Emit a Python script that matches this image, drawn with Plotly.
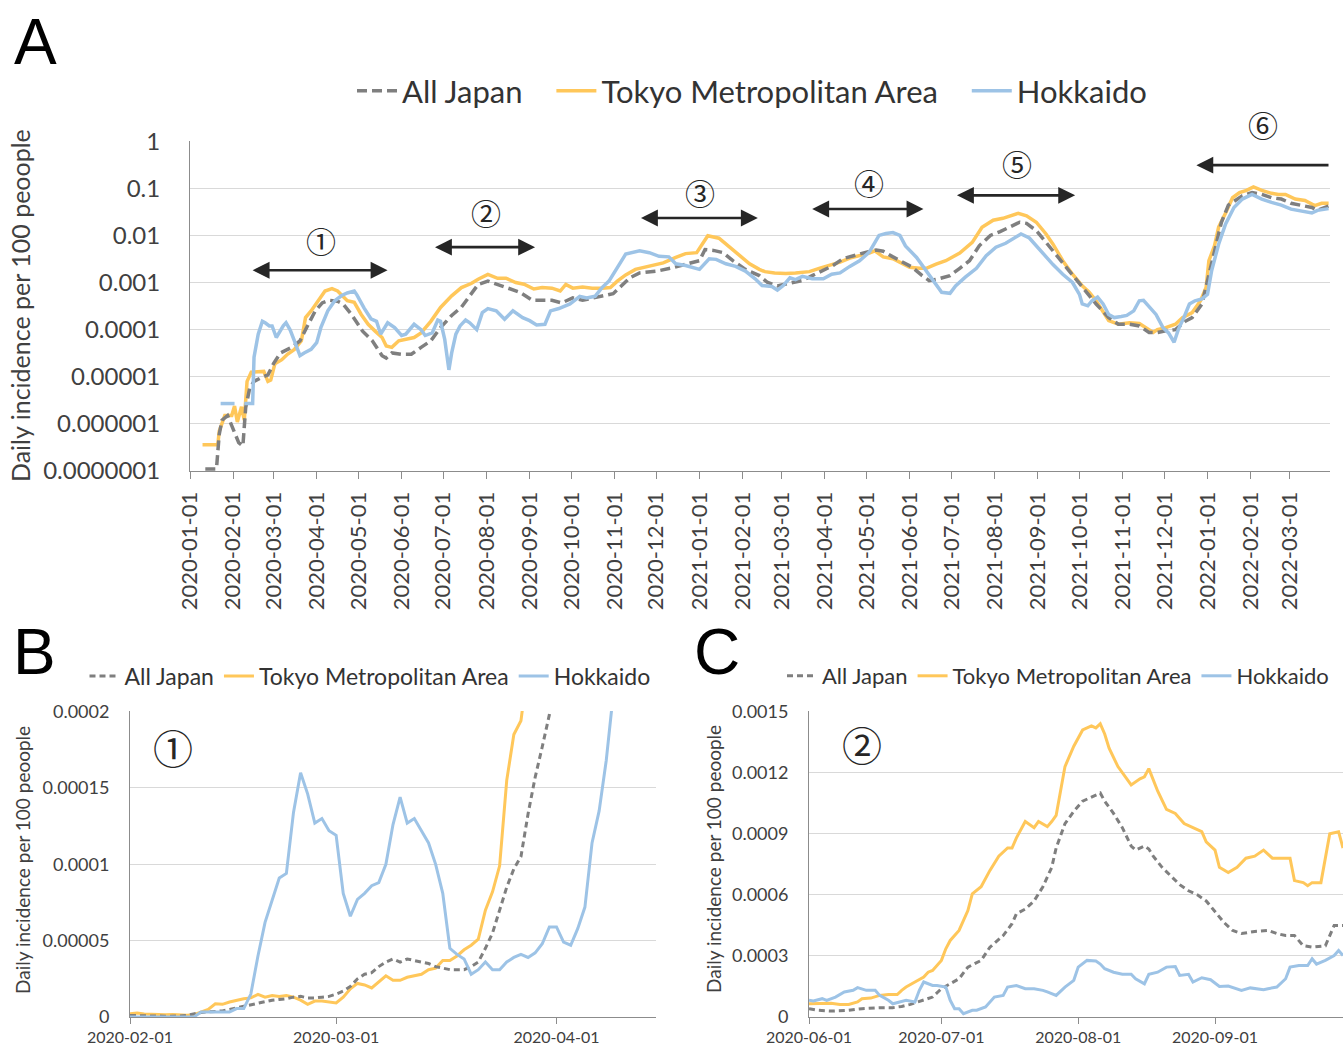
import pandas as pd
import plotly.graph_objects as go

# colours
COLOR_JAPAN = "#7f7f7f"
COLOR_TOKYO = "#ffc75a"
COLOR_HOKKAIDO = "#9dc3e6"
GRID_COLOR = "#d9d9d9"
AXIS_COLOR = "#8c8c8c"
TEXT_COLOR = "#404040"
FONT = "Lato, 'Open Sans', sans-serif"
CJK = "'Noto Sans CJK JP', sans-serif"

W, H = 1343, 1050

# ---------------- Panel A: whole period (log scale) ----------------
A_JAPAN_DATES = [
    "2020-01-12", "2020-01-20", "2020-01-22", "2020-01-24", "2020-01-28", "2020-02-02", "2020-02-05",
    "2020-02-08", "2020-02-10", "2020-02-13", "2020-02-16", "2020-02-21", "2020-02-26", "2020-03-01",
    "2020-03-06", "2020-03-14", "2020-03-20", "2020-03-26", "2020-03-31", "2020-04-05", "2020-04-10",
    "2020-04-16", "2020-04-20", "2020-04-26", "2020-05-04", "2020-05-11", "2020-05-18", "2020-05-21",
    "2020-05-25", "2020-06-01", "2020-06-08", "2020-06-15", "2020-06-22", "2020-06-29", "2020-07-07",
    "2020-07-14", "2020-07-20", "2020-07-26", "2020-08-02", "2020-08-09", "2020-08-17", "2020-08-25",
    "2020-09-03", "2020-09-10", "2020-09-17", "2020-09-24", "2020-10-02", "2020-10-09", "2020-10-16",
    "2020-10-23", "2020-10-31", "2020-11-06", "2020-11-12", "2020-11-19", "2020-12-01", "2020-12-11",
    "2020-12-22", "2021-01-01", "2021-01-05", "2021-01-11", "2021-01-18", "2021-01-25", "2021-02-03",
    "2021-02-13", "2021-02-19", "2021-02-26", "2021-03-09", "2021-03-16", "2021-03-23", "2021-03-31",
    "2021-04-07", "2021-04-14", "2021-04-21", "2021-05-01", "2021-05-08", "2021-05-13", "2021-05-20",
    "2021-05-27", "2021-06-03", "2021-06-10", "2021-06-15", "2021-06-22", "2021-06-30", "2021-07-07",
    "2021-07-14", "2021-07-21", "2021-07-29", "2021-08-05", "2021-08-12", "2021-08-19", "2021-08-24",
    "2021-08-31", "2021-09-07", "2021-09-14", "2021-09-19", "2021-09-26", "2021-10-03", "2021-10-13",
    "2021-10-22", "2021-10-29", "2021-11-06", "2021-11-13", "2021-11-20", "2021-11-26", "2021-12-02",
    "2021-12-09", "2021-12-16", "2021-12-21", "2021-12-28", "2022-01-02", "2022-01-07", "2022-01-11",
    "2022-01-16", "2022-01-21", "2022-01-26", "2022-02-02", "2022-02-09", "2022-02-16", "2022-02-23",
    "2022-03-02", "2022-03-09", "2022-03-17", "2022-03-21", "2022-03-29",
]
A_JAPAN = [
    1.1e-7, 1.1e-7, 6e-7, 1.2e-6, 1.5e-6, 7e-7, 4e-7,
    3.4e-7, 2.2e-6, 5.9e-6, 8e-6, 9.5e-6, 1.1e-5, 1.9e-5,
    3.2e-5, 4.2e-5, 5.8e-5, 1.3e-4, 2.5e-4, 3.7e-4, 4.2e-4,
    4e-4, 3.5e-4, 2.1e-4, 9.3e-5, 5.8e-5, 2.8e-5, 2.5e-5,
    3.2e-5, 3e-5, 3e-5, 4.2e-5, 5.8e-5, 1.1e-4, 2e-4,
    3e-4, 5.1e-4, 9.1e-4, 1.07e-3, 9.1e-4, 7.8e-4, 6.2e-4,
    4.2e-4, 4.2e-4, 4.2e-4, 3.7e-4, 4.7e-4, 4.2e-4, 4.7e-4,
    5.1e-4, 5.8e-4, 8.5e-4, 1.26e-3, 1.6e-3, 1.74e-3, 2.0e-3,
    2.4e-3, 2.9e-3, 5e-3, 4.8e-3, 4.3e-3, 2.9e-3, 1.9e-3,
    1.4e-3, 1.0e-3, 8.5e-4, 1.0e-3, 1.1e-3, 1.4e-3, 1.8e-3,
    2.3e-3, 3.2e-3, 3.7e-3, 4.4e-3, 4.9e-3, 4.6e-3, 3.5e-3,
    2.7e-3, 2.1e-3, 1.4e-3, 1.1e-3, 1.2e-3, 1.4e-3, 2.0e-3,
    2.9e-3, 6e-3, 1.0e-2, 1.2e-2, 1.5e-2, 1.9e-2, 1.8e-2,
    1.26e-2, 7.1e-3, 4.0e-3, 2.6e-3, 1.5e-3, 8e-4, 3.5e-4,
    1.8e-4, 1.3e-4, 1.3e-4, 1.2e-4, 8.7e-5, 8.7e-5, 9.5e-5,
    1.0e-4, 1.5e-4, 1.8e-4, 3.5e-4, 1.5e-3, 6.3e-3, 1.9e-2,
    4.4e-2, 5.4e-2, 6.9e-2, 8.1e-2, 7.4e-2, 6.3e-2, 5.9e-2,
    4.8e-2, 4.4e-2, 3.9e-2, 3.4e-2, 4.2e-2,
]

A_TOKYO_DATES = [
    "2020-01-10", "2020-01-21", "2020-01-22", "2020-01-26", "2020-01-31", "2020-02-02", "2020-02-04",
    "2020-02-07", "2020-02-09", "2020-02-11", "2020-02-14", "2020-02-23", "2020-02-26", "2020-02-28",
    "2020-03-02", "2020-03-07", "2020-03-11", "2020-03-16", "2020-03-21", "2020-03-24", "2020-03-28",
    "2020-04-02", "2020-04-07", "2020-04-12", "2020-04-16", "2020-04-23", "2020-04-28", "2020-05-03",
    "2020-05-08", "2020-05-13", "2020-05-18", "2020-05-21", "2020-05-25", "2020-05-30", "2020-06-03",
    "2020-06-10", "2020-06-15", "2020-06-22", "2020-06-29", "2020-07-07", "2020-07-14", "2020-07-21",
    "2020-07-26", "2020-08-02", "2020-08-09", "2020-08-15", "2020-08-22", "2020-08-28", "2020-09-04",
    "2020-09-10", "2020-09-17", "2020-09-23", "2020-09-27", "2020-10-02", "2020-10-09", "2020-10-16",
    "2020-10-23", "2020-10-29", "2020-11-03", "2020-11-09", "2020-11-16", "2020-11-26", "2020-12-06",
    "2020-12-15", "2020-12-22", "2020-12-30", "2021-01-03", "2021-01-07", "2021-01-15", "2021-01-23",
    "2021-01-30", "2021-02-06", "2021-02-13", "2021-02-17", "2021-02-24", "2021-03-04", "2021-03-11",
    "2021-03-21", "2021-03-28", "2021-04-04", "2021-04-12", "2021-04-19", "2021-04-26", "2021-05-03",
    "2021-05-07", "2021-05-13", "2021-05-20", "2021-05-27", "2021-06-01", "2021-06-08", "2021-06-13",
    "2021-06-20", "2021-06-27", "2021-07-07", "2021-07-16", "2021-07-23", "2021-07-31", "2021-08-07",
    "2021-08-12", "2021-08-18", "2021-08-24", "2021-08-31", "2021-09-07", "2021-09-12", "2021-09-19",
    "2021-09-26", "2021-10-03", "2021-10-08", "2021-10-13", "2021-10-18", "2021-10-22", "2021-10-29",
    "2021-11-06", "2021-11-13", "2021-11-18", "2021-11-23", "2021-11-26", "2021-12-02", "2021-12-09",
    "2021-12-14", "2021-12-21", "2021-12-27", "2021-12-31", "2022-01-02", "2022-01-06", "2022-01-09",
    "2022-01-14", "2022-01-19", "2022-01-24", "2022-01-29", "2022-02-03", "2022-02-09", "2022-02-16",
    "2022-02-21", "2022-02-26", "2022-03-05", "2022-03-12", "2022-03-19", "2022-03-24", "2022-03-29",
]
A_TOKYO = [
    3.6e-7, 3.6e-7, 7e-7, 1.5e-6, 1.5e-6, 2.4e-6, 1.1e-6,
    2.3e-6, 1.2e-6, 8e-6, 1.25e-5, 1.3e-5, 8e-6, 8.5e-6,
    1.9e-5, 2.3e-5, 3e-5, 3.8e-5, 5.8e-5, 1.8e-4, 2.5e-4,
    4.1e-4, 6.6e-4, 7.4e-4, 6.6e-4, 4.1e-4, 3.8e-4, 2.1e-4,
    1.3e-4, 9.3e-5, 6.8e-5, 4.5e-5, 4.2e-5, 5.8e-5, 6.2e-5,
    6.8e-5, 8.5e-5, 1.5e-4, 2.95e-4, 5.2e-4, 7.8e-4, 9.5e-4,
    1.17e-3, 1.48e-3, 1.23e-3, 1.23e-3, 1.0e-3, 9.2e-4, 7.3e-4,
    7.8e-4, 7.6e-4, 6.6e-4, 9.1e-4, 7.6e-4, 8e-4, 7.6e-4,
    7.6e-4, 7.8e-4, 1.07e-3, 1.45e-3, 1.9e-3, 2.2e-3, 2.6e-3,
    3.4e-3, 4.1e-3, 4.3e-3, 6.5e-3, 9.8e-3, 8.7e-3, 5.5e-3,
    3.6e-3, 2.5e-3, 1.9e-3, 1.7e-3, 1.6e-3, 1.55e-3, 1.6e-3,
    1.7e-3, 2.0e-3, 2.3e-3, 2.7e-3, 3.3e-3, 3.7e-3, 4.2e-3,
    4.7e-3, 3.5e-3, 3.2e-3, 2.5e-3, 2.1e-3, 2.0e-3, 2.0e-3,
    2.45e-3, 2.9e-3, 4.2e-3, 7.1e-3, 1.48e-2, 2.1e-2, 2.3e-2,
    2.6e-2, 2.95e-2, 2.6e-2, 1.9e-2, 1.07e-2, 6.5e-3, 2.9e-3,
    1.5e-3, 8.5e-4, 6.2e-4, 4.1e-4, 2.3e-4, 1.55e-4, 1.3e-4,
    1.4e-4, 1.35e-4, 1.1e-4, 8.7e-5, 1.0e-4, 1.1e-4, 1.3e-4,
    1.8e-4, 2.3e-4, 4.1e-4, 7.9e-4, 2.9e-3, 6e-3, 1.5e-2,
    3e-2, 6.3e-2, 8.1e-2, 9e-2, 1.07e-1, 9e-2, 7.8e-2,
    7.4e-2, 7.4e-2, 5.9e-2, 5.5e-2, 4.3e-2, 4.8e-2, 4.8e-2,
]

A_HOKKAIDO_DATES = [
    "2020-01-23", "2020-02-02", "2020-02-05", "2020-02-09", "2020-02-15", "2020-02-16", "2020-02-19",
    "2020-02-22", "2020-02-24", "2020-02-27", "2020-02-29", "2020-03-03", "2020-03-05", "2020-03-08",
    "2020-03-10", "2020-03-13", "2020-03-16", "2020-03-20", "2020-03-23", "2020-03-28", "2020-04-01",
    "2020-04-04", "2020-04-09", "2020-04-14", "2020-04-19", "2020-04-23", "2020-04-28", "2020-04-30",
    "2020-05-05", "2020-05-10", "2020-05-14", "2020-05-17", "2020-05-22", "2020-05-27", "2020-06-01",
    "2020-06-04", "2020-06-10", "2020-06-15", "2020-06-18", "2020-06-23", "2020-06-27", "2020-06-29",
    "2020-07-02", "2020-07-05", "2020-07-07", "2020-07-10", "2020-07-13", "2020-07-17", "2020-07-20",
    "2020-07-25", "2020-07-29", "2020-08-02", "2020-08-08", "2020-08-14", "2020-08-20", "2020-08-27",
    "2020-09-01", "2020-09-06", "2020-09-12", "2020-09-16", "2020-09-22", "2020-09-30", "2020-10-07",
    "2020-10-12", "2020-10-18", "2020-10-23", "2020-10-28", "2020-11-03", "2020-11-09", "2020-11-19",
    "2020-11-26", "2020-12-03", "2020-12-10", "2020-12-15", "2020-12-22", "2021-01-01", "2021-01-08",
    "2021-01-13", "2021-01-20", "2021-01-27", "2021-02-03", "2021-02-10", "2021-02-15", "2021-02-22",
    "2021-02-26", "2021-03-02", "2021-03-07", "2021-03-11", "2021-03-16", "2021-03-23", "2021-03-31",
    "2021-04-06", "2021-04-12", "2021-04-19", "2021-04-26", "2021-05-03", "2021-05-10", "2021-05-15",
    "2021-05-20", "2021-05-25", "2021-05-29", "2021-06-06", "2021-06-13", "2021-06-18", "2021-06-24",
    "2021-06-30", "2021-07-04", "2021-07-11", "2021-07-19", "2021-07-26", "2021-08-02", "2021-08-09",
    "2021-08-14", "2021-08-20", "2021-08-26", "2021-08-31", "2021-09-07", "2021-09-12", "2021-09-19",
    "2021-09-26", "2021-10-01", "2021-10-03", "2021-10-07", "2021-10-10", "2021-10-14", "2021-10-18",
    "2021-10-22", "2021-10-26", "2021-10-31", "2021-11-04", "2021-11-09", "2021-11-13", "2021-11-16",
    "2021-11-20", "2021-11-25", "2021-11-30", "2021-12-04", "2021-12-08", "2021-12-11", "2021-12-15",
    "2021-12-19", "2021-12-23", "2021-12-28", "2022-01-01", "2022-01-04", "2022-01-09", "2022-01-14",
    "2022-01-20", "2022-01-26", "2022-02-02", "2022-02-09", "2022-02-16", "2022-02-23", "2022-03-02",
    "2022-03-09", "2022-03-17", "2022-03-21", "2022-03-29",
]
A_HOKKAIDO = [
    2.7e-6, 2.7e-6, None, 2.7e-6, 2.7e-6, 2.6e-5, 8e-5,
    1.5e-4, 1.4e-4, 1.2e-4, 1.2e-4, 6.8e-5, 8.8e-5, 1.2e-4,
    1.4e-4, 9.8e-5, 5.8e-5, 2.8e-5, 3.2e-5, 3.8e-5, 5.3e-5,
    1.1e-4, 2.5e-4, 4.1e-4, 5.3e-4, 6e-4, 6.6e-4, 5.4e-4,
    2.9e-4, 1.7e-4, 1.5e-4, 8e-5, 1.4e-4, 1.1e-4, 7.5e-5,
    8e-5, 1.3e-4, 1.0e-4, 7.5e-5, 8.5e-5, 1.6e-4, 1.5e-4,
    6.2e-5, 1.4e-5, 3.2e-5, 8e-5, 1.2e-4, 1.6e-4, 1.4e-4,
    1.0e-4, 2.3e-4, 2.8e-4, 2.5e-4, 1.66e-4, 2.5e-4, 1.8e-4,
    1.55e-4, 1.26e-4, 1.3e-4, 2.5e-4, 2.8e-4, 3.5e-4, 5.1e-4,
    4.7e-4, 5.1e-4, 7.8e-4, 1.07e-3, 2.0e-3, 4.0e-3, 4.7e-3,
    4.3e-3, 3.6e-3, 3.5e-3, 2.5e-3, 2.3e-3, 1.9e-3, 3.2e-3,
    3.1e-3, 2.5e-3, 2.2e-3, 1.75e-3, 1.2e-3, 8.6e-4, 8.2e-4,
    6.9e-4, 8.5e-4, 1.26e-3, 1.15e-3, 1.35e-3, 1.2e-3, 1.2e-3,
    1.5e-3, 1.6e-3, 2.2e-3, 2.9e-3, 4.4e-3, 1.0e-2, 1.1e-2,
    1.15e-2, 1.0e-2, 6e-3, 3.4e-3, 1.8e-3, 1.1e-3, 6.2e-4,
    5.9e-4, 8.5e-4, 1.3e-3, 2.0e-3, 3.7e-3, 5.6e-3, 6.8e-3,
    8.3e-3, 1.07e-2, 8.8e-3, 6e-3, 3.4e-3, 2.4e-3, 1.5e-3,
    1.0e-3, 5.6e-4, 3.5e-4, 3.2e-4, 4.1e-4, 4.9e-4, 3.5e-4,
    2.1e-4, 1.8e-4, 1.9e-4, 2.0e-4, 2.5e-4, 4.1e-4, 4.2e-4,
    3.0e-4, 2.1e-4, 1.1e-4, 8.5e-5, 5.4e-5, 1.0e-4, 1.8e-4,
    3.5e-4, 4.1e-4, 4.5e-4, 5.6e-4, 1.8e-3, 6.5e-3, 1.75e-2,
    3.9e-2, 5.9e-2, 7.4e-2, 5.9e-2, 5e-2, 4.4e-2, 3.6e-2,
    3.3e-2, 3.0e-2, 3.4e-2, 3.7e-2,
]

A_TICKVALS = [1e-7, 1e-6, 1e-5, 1e-4, 1e-3, 1e-2, 1e-1, 1]
A_TICKTEXT = ["0.0000001", "0.000001", "0.00001", "0.0001", "0.001", "0.01", "0.1", "1"]

# periods marked with arrows in panel A: (label, start, end)
PERIODS = [
    ("①", "2020-02-15", "2020-05-23"),
    ("②", "2020-06-25", "2020-09-06"),
    ("③", "2020-11-20", "2021-02-13"),
    ("④", "2021-03-23", "2021-06-12"),
    ("⑤", "2021-07-05", "2021-09-29"),
    ("⑥", "2021-12-24", "2022-03-30"),
]

# ---------------- Panel B: period 1 (daily from 2020-02-01) ----------------
B_START = "2020-02-01"
B_JAPAN = [
    1.0e-6, 1.0e-6, 8e-7, 7e-7, 6e-7, 5e-7, 5e-7, 6e-7, 1.0e-6, 2.0e-6,
    3.0e-6, 3.3e-6, 3.6e-6, 4.0e-6, 5.0e-6, 6.0e-6, 7.0e-6, 7.8e-6, 8.8e-6, 9.8e-6,
    1.1e-5, 1.15e-5, 1.2e-5, 1.3e-5, 1.35e-5, 1.25e-5, 1.25e-5, 1.3e-5, 1.35e-5, 1.5e-5,
    1.7e-5, 2.0e-5, 2.5e-5, 2.8e-5, 2.9e-5, 3.3e-5, 3.6e-5, 3.8e-5, 3.6e-5, 3.8e-5,
    3.7e-5, 3.6e-5, 3.5e-5, 3.3e-5, 3.2e-5, 3.1e-5, 3.1e-5, 3.1e-5, 3.3e-5, 3.6e-5,
    4.5e-5, 5.5e-5, 7.0e-5, 8.5e-5, 9.7e-5, 1.05e-4, 1.33e-4, 1.57e-4, 1.77e-4, 1.98e-4,
    2.3e-4, 2.7e-4,
]
B_TOKYO = [
    2.2e-6, 2.6e-6, 2.0e-6, 1.7e-6, 1.5e-6, 1.5e-6, 1.7e-6, 1.5e-6, 1.2e-6, 1.5e-6,
    3.0e-6, 5.0e-6, 8.7e-6, 8.3e-6, 9.8e-6, 1.1e-5, 1.2e-5, 1.25e-5, 1.48e-5, 1.3e-5,
    1.4e-5, 1.35e-5, 1.4e-5, 1.3e-5, 1.1e-5, 8.3e-6, 1.04e-5, 1.04e-5, 1.0e-5, 9.2e-6,
    1.3e-5, 1.85e-5, 2.2e-5, 2.1e-5, 1.9e-5, 2.3e-5, 2.7e-5, 2.4e-5, 2.4e-5, 2.6e-5,
    2.7e-5, 2.8e-5, 3.1e-5, 3.2e-5, 3.7e-5, 3.7e-5, 4.0e-5, 4.4e-5, 4.7e-5, 5.1e-5,
    7.0e-5, 8.2e-5, 9.9e-5, 1.55e-4, 1.85e-4, 1.94e-4, 2.3e-4, 2.7e-4,
]
B_HOKKAIDO = [
    0, 0, 0, 0, 0, 0, 0, 0, 0, 0,
    3.3e-6, 3.3e-6, 3.3e-6, 3.3e-6, 3.3e-6, 5.5e-6, 5.5e-6, 1.5e-5, 4.0e-5, 6.2e-5,
    7.6e-5, 9.1e-5, 9.4e-5, 1.34e-4, 1.6e-4, 1.46e-4, 1.27e-4, 1.3e-4, 1.22e-4, 1.19e-4,
    8.1e-5, 6.6e-5, 7.7e-5, 8.1e-5, 8.6e-5, 8.8e-5, 1.0e-4, 1.26e-4, 1.44e-4, 1.27e-4,
    1.3e-4, 1.22e-4, 1.14e-4, 1.0e-4, 8.1e-5, 4.5e-5, 4.1e-5, 3.8e-5, 2.8e-5, 3.1e-5,
    3.6e-5, 3.1e-5, 3.1e-5, 3.6e-5, 3.9e-5, 4.1e-5, 3.9e-5, 4.2e-5, 4.8e-5, 5.9e-5,
    5.9e-5, 4.9e-5, 4.7e-5, 5.8e-5, 7.2e-5, 1.14e-4, 1.35e-4, 1.68e-4, 2.05e-4, 2.5e-4,
    3.0e-4,
]
B_TICKVALS = [0, 5e-5, 1e-4, 1.5e-4, 2e-4]
B_TICKTEXT = ["0", "0.00005", "0.0001", "0.00015", "0.0002"]

# ---------------- Panel C: period 2 ----------------
C_JAPAN_DATES = [
    "2020-06-01", "2020-06-03", "2020-06-06", "2020-06-10", "2020-06-13", "2020-06-17", "2020-06-20",
    "2020-06-22", "2020-06-24", "2020-06-27", "2020-06-29", "2020-07-01", "2020-07-03", "2020-07-05",
    "2020-07-07", "2020-07-10", "2020-07-12", "2020-07-15", "2020-07-17", "2020-07-18", "2020-07-20",
    "2020-07-22", "2020-07-24", "2020-07-26", "2020-07-27", "2020-07-29", "2020-07-31", "2020-08-02",
    "2020-08-04", "2020-08-06", "2020-08-07", "2020-08-09", "2020-08-11", "2020-08-13", "2020-08-14",
    "2020-08-16", "2020-08-17", "2020-08-18", "2020-08-20", "2020-08-22", "2020-08-24", "2020-08-26",
    "2020-08-28", "2020-08-30", "2020-09-01", "2020-09-03", "2020-09-05", "2020-09-07", "2020-09-10",
    "2020-09-13", "2020-09-15", "2020-09-17", "2020-09-19", "2020-09-21", "2020-09-23", "2020-09-26",
    "2020-09-28", "2020-09-30",
]
C_JAPAN = [
    4.1e-5, 3.3e-5, 2.9e-5, 3.3e-5, 4.1e-5, 4.6e-5, 4.6e-5,
    5.2e-5, 6.2e-5, 8.2e-5, 9.8e-5, 1.39e-4, 1.63e-4, 1.88e-4,
    2.45e-4, 2.78e-4, 3.43e-4, 4.0e-4, 4.58e-4, 5.07e-4, 5.3e-4,
    5.7e-4, 6.4e-4, 7.35e-4, 8.3e-4, 9.5e-4, 1.01e-3, 1.06e-3,
    1.08e-3, 1.10e-3, 1.06e-3, 1.0e-3, 9.3e-4, 8.4e-4, 8.2e-4,
    8.4e-4, 8.25e-4, 7.9e-4, 7.35e-4, 6.9e-4, 6.5e-4, 6.2e-4,
    6.0e-4, 5.7e-4, 5.2e-4, 4.65e-4, 4.25e-4, 4.1e-4, 4.2e-4,
    4.25e-4, 4.1e-4, 4.0e-4, 4.0e-4, 3.5e-4, 3.43e-4, 3.5e-4,
    4.5e-4, 4.5e-4,
]
C_TOKYO_DATES = [
    "2020-06-01", "2020-06-03", "2020-06-06", "2020-06-08", "2020-06-10", "2020-06-12", "2020-06-13",
    "2020-06-15", "2020-06-17", "2020-06-19", "2020-06-21", "2020-06-22", "2020-06-23", "2020-06-25",
    "2020-06-27", "2020-06-28", "2020-06-29", "2020-07-01", "2020-07-02", "2020-07-03", "2020-07-05",
    "2020-07-07", "2020-07-08", "2020-07-10", "2020-07-12", "2020-07-14", "2020-07-16", "2020-07-17",
    "2020-07-18", "2020-07-20", "2020-07-22", "2020-07-23", "2020-07-25", "2020-07-26", "2020-07-27",
    "2020-07-28", "2020-07-29", "2020-07-31", "2020-08-02", "2020-08-04", "2020-08-05", "2020-08-06",
    "2020-08-07", "2020-08-08", "2020-08-10", "2020-08-13", "2020-08-15", "2020-08-16", "2020-08-17",
    "2020-08-19", "2020-08-21", "2020-08-23", "2020-08-25", "2020-08-27", "2020-08-29", "2020-08-30",
    "2020-09-01", "2020-09-02", "2020-09-04", "2020-09-06", "2020-09-08", "2020-09-10", "2020-09-12",
    "2020-09-14", "2020-09-16", "2020-09-18", "2020-09-19", "2020-09-21", "2020-09-22", "2020-09-23",
    "2020-09-25", "2020-09-27", "2020-09-29", "2020-09-30",
]
C_TOKYO = [
    6.5e-5, 6.5e-5, 6.8e-5, 6.2e-5, 6.2e-5, 7.4e-5, 9.0e-5,
    9.3e-5, 1.06e-4, 1.11e-4, 1.1e-4, 1.31e-4, 1.47e-4, 1.72e-4,
    1.96e-4, 2.2e-4, 2.29e-4, 2.78e-4, 3.35e-4, 3.76e-4, 4.25e-4,
    5.23e-4, 6.05e-4, 6.4e-4, 7.2e-4, 7.9e-4, 8.3e-4, 8.3e-4,
    8.8e-4, 9.6e-4, 9.3e-4, 9.6e-4, 9.35e-4, 9.6e-4, 9.9e-4,
    1.11e-3, 1.23e-3, 1.33e-3, 1.41e-3, 1.43e-3, 1.42e-3, 1.44e-3,
    1.39e-3, 1.32e-3, 1.23e-3, 1.14e-3, 1.17e-3, 1.18e-3, 1.22e-3,
    1.11e-3, 1.02e-3, 1.0e-3, 9.5e-4, 9.3e-4, 9.1e-4, 8.6e-4,
    8.2e-4, 7.35e-4, 7.1e-4, 7.35e-4, 7.8e-4, 7.9e-4, 8.2e-4,
    7.8e-4, 7.8e-4, 7.8e-4, 6.7e-4, 6.6e-4, 6.45e-4, 6.6e-4,
    6.6e-4, 9.0e-4, 9.1e-4, 8.3e-4,
]
C_HOKKAIDO_DATES = [
    "2020-06-01", "2020-06-02", "2020-06-04", "2020-06-05", "2020-06-07", "2020-06-09", "2020-06-11",
    "2020-06-12", "2020-06-14", "2020-06-16", "2020-06-17", "2020-06-19", "2020-06-20", "2020-06-22",
    "2020-06-23", "2020-06-25", "2020-06-26", "2020-06-27", "2020-06-29", "2020-06-30", "2020-07-02",
    "2020-07-03", "2020-07-04", "2020-07-05", "2020-07-06", "2020-07-08", "2020-07-09", "2020-07-11",
    "2020-07-13", "2020-07-15", "2020-07-16", "2020-07-18", "2020-07-20", "2020-07-22", "2020-07-24",
    "2020-07-25", "2020-07-27", "2020-07-29", "2020-07-31", "2020-08-01", "2020-08-03", "2020-08-05",
    "2020-08-06", "2020-08-07", "2020-08-09", "2020-08-11", "2020-08-13", "2020-08-14", "2020-08-16",
    "2020-08-17", "2020-08-19", "2020-08-21", "2020-08-23", "2020-08-24", "2020-08-26", "2020-08-27",
    "2020-08-29", "2020-08-31", "2020-09-02", "2020-09-04", "2020-09-06", "2020-09-07", "2020-09-09",
    "2020-09-12", "2020-09-13", "2020-09-15", "2020-09-17", "2020-09-18", "2020-09-20", "2020-09-22",
    "2020-09-23", "2020-09-24", "2020-09-26", "2020-09-28", "2020-09-29", "2020-09-30",
]
C_HOKKAIDO = [
    8.2e-5, 7.9e-5, 9.0e-5, 8.2e-5, 9.8e-5, 1.23e-4, 1.31e-4,
    1.44e-4, 1.31e-4, 1.31e-4, 1.06e-4, 8.2e-5, 6.5e-5, 7.4e-5,
    8.2e-5, 7.4e-5, 1.31e-4, 1.72e-4, 1.55e-4, 1.55e-4, 1.47e-4,
    8.2e-5, 4.1e-5, 4.1e-5, 1.6e-5, 3.3e-5, 3.3e-5, 4.9e-5,
    9.8e-5, 1.06e-4, 1.47e-4, 1.55e-4, 1.39e-4, 1.39e-4, 1.31e-4,
    1.23e-4, 1.06e-4, 1.47e-4, 1.8e-4, 2.45e-4, 2.78e-4, 2.75e-4,
    2.6e-4, 2.37e-4, 2.2e-4, 2.1e-4, 2.1e-4, 1.88e-4, 1.63e-4,
    2.1e-4, 2.2e-4, 2.45e-4, 2.48e-4, 2.04e-4, 2.1e-4, 1.72e-4,
    1.93e-4, 1.83e-4, 1.5e-4, 1.52e-4, 1.39e-4, 1.31e-4, 1.43e-4,
    1.34e-4, 1.39e-4, 1.47e-4, 1.88e-4, 2.45e-4, 2.53e-4, 2.53e-4,
    2.86e-4, 2.6e-4, 2.78e-4, 3.02e-4, 3.27e-4, 3.02e-4,
]
C_TICKVALS = [0, 3e-4, 6e-4, 9e-4, 1.2e-3, 1.5e-3]
C_TICKTEXT = ["0", "0.0003", "0.0006", "0.0009", "0.0012", "0.0015"]

SERIES_NAMES = ["All Japan", "Tokyo Metropolitan Area", "Hokkaido"]
NBSP = "\u00a0"


def px_x(p):
    return p / W


def px_y(p):
    return 1 - p / H


fig = go.Figure()


def daily(vals):
    return pd.date_range(B_START, periods=len(vals), freq="D")


# (xaxis, yaxis, legend, [(dates, values) for Japan, Tokyo, Hokkaido], width, dash, legend padding)
panels = [
    ("x", "y", "legend",
     [(A_JAPAN_DATES, A_JAPAN), (A_TOKYO_DATES, A_TOKYO), (A_HOKKAIDO_DATES, A_HOKKAIDO)],
     3.5, "10px,5px", 3),
    ("x2", "y2", "legend2",
     [(daily(B_JAPAN), B_JAPAN), (daily(B_TOKYO), B_TOKYO), (daily(B_HOKKAIDO), B_HOKKAIDO)],
     3, "6px,4px", 0),
    ("x3", "y3", "legend3",
     [(C_JAPAN_DATES, C_JAPAN), (C_TOKYO_DATES, C_TOKYO), (C_HOKKAIDO_DATES, C_HOKKAIDO)],
     3, "6px,4px", 0),
]
colors = [COLOR_JAPAN, COLOR_TOKYO, COLOR_HOKKAIDO]

for xa, ya, lg, data, lw, dash, pad in panels:
    # Tokyo first, then All Japan, Hokkaido on top
    for i in [1, 0, 2]:
        dates, vals = data[i]
        name = SERIES_NAMES[i] + (NBSP * pad if i < 2 else "")
        fig.add_trace(go.Scatter(
            x=dates, y=vals, mode="lines", name=name,
            xaxis=xa, yaxis=ya, legend=lg, legendrank=i + 1,
            connectgaps=False,
            line=dict(color=colors[i], width=lw, dash=dash if i == 0 else "solid"),
        ))

axis_common = dict(showgrid=False, zeroline=False, showline=True, linecolor=AXIS_COLOR,
                   linewidth=1, automargin=False)
yaxis_common = {**axis_common, "showgrid": True, "gridcolor": GRID_COLOR, "ticks": ""}

fig.update_layout(
    width=W, height=H,
    margin=dict(l=0, r=0, t=0, b=0, autoexpand=False),
    paper_bgcolor="white", plot_bgcolor="white",
    font=dict(family=FONT, color=TEXT_COLOR),
    xaxis=dict(
        **axis_common, domain=[px_x(190), px_x(1330)], anchor="y", type="date",
        range=["2020-01-01", "2022-03-30"], tick0="2020-01-01", dtick="M1",
        tickformat="%Y-%m-%d", tickangle=-90, ticks="outside", ticklen=7, tickcolor=AXIS_COLOR,
        tickfont=dict(size=22, color=TEXT_COLOR), ticklabelstandoff=4,
    ),
    yaxis=dict(
        **yaxis_common, domain=[px_y(471), px_y(141)], anchor="x",
        type="log", range=[-7, 0.003], tickvals=A_TICKVALS, ticktext=A_TICKTEXT,
        tickfont=dict(size=24, color=TEXT_COLOR), ticklabelstandoff=24,
    ),
    xaxis2=dict(
        **axis_common, domain=[px_x(130), px_x(656)], anchor="y2", type="date",
        range=["2020-02-01", "2020-04-15"], tick0="2020-02-01", dtick="M1",
        tickformat="%Y-%m-%d", ticks="outside", ticklen=6, tickcolor=AXIS_COLOR,
        tickfont=dict(size=16, color=TEXT_COLOR),
    ),
    yaxis2=dict(
        **yaxis_common, domain=[px_y(1017), px_y(711)], anchor="x2",
        range=[0, 2.004e-4], tickvals=B_TICKVALS, ticktext=B_TICKTEXT,
        tickfont=dict(size=18, color=TEXT_COLOR), ticklabelstandoff=16,
    ),
    xaxis3=dict(
        **axis_common, domain=[px_x(809), 1.0], anchor="y3", type="date",
        range=["2020-06-01", "2020-09-30"], tick0="2020-06-01", dtick="M1",
        tickformat="%Y-%m-%d", ticks="outside", ticklen=6, tickcolor=AXIS_COLOR,
        tickfont=dict(size=16, color=TEXT_COLOR),
    ),
    yaxis3=dict(
        **yaxis_common, domain=[px_y(1017), px_y(711)], anchor="x3",
        range=[0, 1.503e-3], tickvals=C_TICKVALS, ticktext=C_TICKTEXT,
        tickfont=dict(size=18, color=TEXT_COLOR), ticklabelstandoff=16,
    ),
    legend=dict(
        orientation="h", x=px_x(752), y=px_y(91), xanchor="center", yanchor="middle",
        font=dict(size=31, color="#333333"), itemwidth=40, bgcolor="rgba(0,0,0,0)",
    ),
    legend2=dict(
        orientation="h", x=px_x(370), y=px_y(676), xanchor="center", yanchor="middle",
        font=dict(size=23, color="#333333"), itemwidth=30, bgcolor="rgba(0,0,0,0)",
    ),
    legend3=dict(
        orientation="h", x=px_x(1058), y=px_y(676), xanchor="center", yanchor="middle",
        font=dict(size=22, color="#333333"), itemwidth=30, bgcolor="rgba(0,0,0,0)",
    ),
)

# panel letters
for letter, cx, cy in [("A", 35, 42), ("B", 34, 652), ("C", 717, 652)]:
    fig.add_annotation(
        text=letter, x=px_x(cx), y=px_y(cy), xref="paper", yref="paper",
        showarrow=False, xanchor="center", yanchor="middle",
        font=dict(family="'Liberation Sans', Arial, sans-serif", size=64, color="black"),
    )

# y-axis titles
for title, cx, cy, size in [
    ("Daily incidence per 100 peoople", 20, 306, 25),
    ("Daily incidence per 100 peoople", 22, 860, 19),
    ("Daily incidence per 100 peoople", 713, 859, 19),
]:
    fig.add_annotation(
        text=title, x=px_x(cx), y=px_y(cy), xref="paper", yref="paper",
        showarrow=False, textangle=-90, xanchor="center", yanchor="middle",
        font=dict(size=size, color=TEXT_COLOR),
    )

# period arrows (y in log10 units) and circled labels (pixel rows) in panel A
arrow_levels = [-2.74, -2.25, -1.63, -1.44, -1.15, -0.51]
label_rows = [240, 212, 192, 182, 163, 124]
for (label, start, end), ay, row in zip(PERIODS, arrow_levels, label_rows):
    single = label == "⑥"
    fig.add_annotation(
        x=start, y=ay, ax=end, ay=ay, xref="x", yref="y", axref="x", ayref="y",
        text="", showarrow=True, arrowhead=2, arrowsize=1.3, arrowwidth=2.6,
        arrowcolor="#262626", arrowside="end" if single else "end+start",
    )
    mid = pd.Timestamp(start) + (pd.Timestamp(end) - pd.Timestamp(start)) / 2
    fig.add_annotation(
        x=mid, y=px_y(row), xref="x", yref="paper", text=label, showarrow=False,
        yanchor="middle", font=dict(family=CJK, size=30, color="#262626"),
    )

# circled labels in panels B and C
fig.add_annotation(x="2020-02-07", y=1.77e-4, xref="x2", yref="y2", text="①", showarrow=False,
                   font=dict(family=CJK, size=40, color="#262626"))
fig.add_annotation(x="2020-06-13", y=1.34e-3, xref="x3", yref="y3", text="②", showarrow=False,
                   font=dict(family=CJK, size=40, color="#262626"))

fig.write_html("out.html", config={"displayModeBar": False},
               post_script="document.body.style.margin='0';")
